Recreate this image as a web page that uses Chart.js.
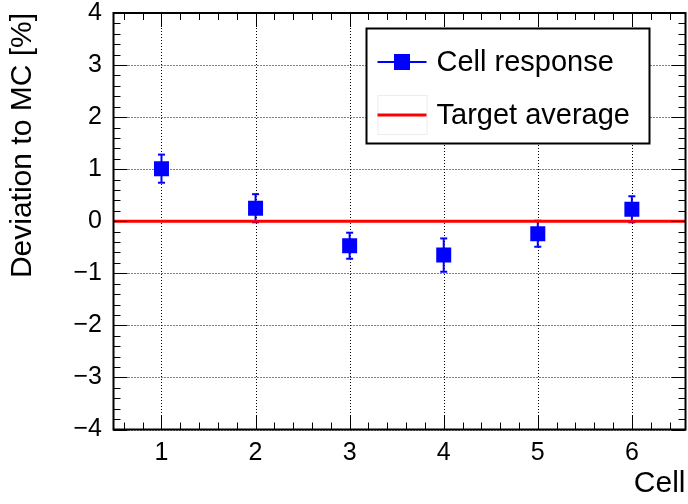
<!DOCTYPE html>
<html>
<head>
<meta charset="utf-8">
<title>Cell response deviation</title>
<script src="https://cdn.jsdelivr.net/npm/chart.js@4/dist/chart.umd.min.js"></script>
<style>
  html, body { margin: 0; padding: 0; background: #fff; }
  canvas { display: block; }
</style>
</head>
<body>
<canvas id="c" width="688" height="504"></canvas>
<script>
// Measured cell response relative to simulation, in percent
const cells = [1, 2, 3, 4, 5, 6];
const deviation = [1.01, 0.25, -0.47, -0.65, -0.24, 0.23];
const deviationError = [0.27, 0.27, 0.25, 0.32, 0.25, 0.25];
const targetAverage = 0;

// Axis ranges and labelled ticks
const xRange = [0.49, 6.57];
const yRange = [-4, 4];
const xTicks = [1, 2, 3, 4, 5, 6];
const yTicks = [-4, -3, -2, -1, 0, 1, 2, 3, 4];

const FONT = '"Liberation Sans", Arial, Helvetica, sans-serif';
const BLUE = '#0000ff';
const RED = '#ff0000';

// Plot frame in canvas pixels
const frame = { left: 113.5, top: 13, right: 685.5, bottom: 429.5 };

function minorValues(min, max, step) {
  const out = [];
  for (let v = Math.ceil(min / step - 1e-9) * step; v <= max + 1e-9; v += step) {
    out.push(Math.round(v * 1000) / 1000);
  }
  return out;
}

function seg(ctx, x1, y1, x2, y2) {
  ctx.beginPath();
  ctx.moveTo(x1, y1);
  ctx.lineTo(x2, y2);
  ctx.stroke();
}

// Labels must not push the plot frame around
function noLabelPadding(s) {
  s.paddingTop = 0;
  s.paddingBottom = 0;
  s.paddingLeft = 0;
  s.paddingRight = 0;
}

// Dotted grid, error bars, inner tick marks, frame and legend box
const rootStyle = {
  id: 'rootStyle',
  beforeDatasetsDraw(chart) {
    const { ctx, chartArea: a, scales: { x, y } } = chart;
    ctx.save();
    ctx.strokeStyle = '#000';
    ctx.lineWidth = 1;
    ctx.setLineDash([1, 2]);
    xTicks.forEach(v => {
      const px = Math.round(x.getPixelForValue(v)) + 0.5;
      seg(ctx, px, a.top, px, a.bottom);
    });
    yTicks.forEach(v => {
      const py = Math.round(y.getPixelForValue(v)) + 0.5;
      seg(ctx, a.left, py, a.right, py);
    });
    ctx.setLineDash([]);

    // vertical error bars with short end caps
    ctx.strokeStyle = BLUE;
    ctx.lineWidth = 2;
    cells.forEach((c, i) => {
      const px = x.getPixelForValue(c);
      const yHi = y.getPixelForValue(deviation[i] + deviationError[i]);
      const yLo = y.getPixelForValue(deviation[i] - deviationError[i]);
      seg(ctx, px, yHi, px, yLo);
      seg(ctx, px - 3.5, yHi, px + 3.5, yHi);
      seg(ctx, px - 3.5, yLo, px + 3.5, yLo);
    });
    ctx.restore();
  },
  afterDatasetsDraw(chart) {
    const { ctx, chartArea: a, scales: { x, y } } = chart;
    ctx.save();
    ctx.strokeStyle = '#000';
    ctx.lineWidth = 1;
    const major = 14, minor = 7;

    // ticks on all four sides, pointing inwards
    minorValues(xRange[0], xRange[1], 0.2).forEach(v => {
      const px = Math.round(x.getPixelForValue(v)) + 0.5;
      const len = xTicks.includes(v) ? major : minor;
      seg(ctx, px, a.bottom, px, a.bottom - len);
      seg(ctx, px, a.top, px, a.top + len);
    });
    minorValues(yRange[0], yRange[1], 0.2).forEach(v => {
      const py = Math.round(y.getPixelForValue(v)) + 0.5;
      const len = yTicks.includes(v) ? major : minor;
      seg(ctx, a.left, py, a.left + len, py);
      seg(ctx, a.right, py, a.right - len, py);
    });

    // frame
    ctx.lineWidth = 2;
    ctx.strokeRect(a.left, a.top, a.right - a.left, a.bottom - a.top);

    // legend
    const L = { x: 366.5, y: 28.5, w: 283, h: 115 };
    ctx.fillStyle = '#fff';
    ctx.fillRect(L.x, L.y, L.w, L.h);
    ctx.strokeStyle = '#000';
    ctx.lineWidth = 2;
    ctx.strokeRect(L.x, L.y, L.w, L.h);

    const row1 = L.y + 33.5, row2 = L.y + 86.5;
    const sx1 = L.x + 11, sx2 = L.x + 60, sxm = (sx1 + sx2) / 2;

    ctx.strokeStyle = BLUE;
    ctx.lineWidth = 2;
    seg(ctx, sx1, row1, sx2, row1);
    ctx.fillStyle = BLUE;
    ctx.fillRect(sxm - 8, row1 - 8, 16, 16);

    ctx.strokeStyle = '#ececec';
    ctx.lineWidth = 1;
    ctx.strokeRect(sx1 + 0.5, row2 - 19.5, sx2 - sx1, 39);
    ctx.strokeStyle = RED;
    ctx.lineWidth = 3;
    seg(ctx, sx1, row2, sx2, row2);

    ctx.fillStyle = '#000';
    ctx.font = '29px ' + FONT;
    ctx.textBaseline = 'middle';
    ctx.textAlign = 'left';
    ctx.fillText('Cell response', L.x + 70, row1 + 1);
    ctx.fillText('Target average', L.x + 70, row2 + 1);
    ctx.restore();
  }
};

new Chart(document.getElementById('c'), {
  type: 'scatter',
  data: {
    datasets: [
      {
        label: 'Target average',
        data: [{ x: xRange[0], y: targetAverage }, { x: xRange[1], y: targetAverage }],
        showLine: true,
        borderColor: RED,
        borderWidth: 3,
        pointRadius: 0,
        order: 0
      },
      {
        label: 'Cell response',
        data: cells.map((c, i) => ({ x: c, y: deviation[i] })),
        showLine: false,
        pointStyle: 'rect',
        pointRadius: 10.6,
        pointBorderWidth: 0,
        backgroundColor: BLUE,
        borderColor: BLUE,
        order: 1
      }
    ]
  },
  options: {
    responsive: false,
    animation: false,
    devicePixelRatio: 1,
    layout: {
      autoPadding: false,
      padding: { left: 0, top: frame.top, right: 688 - frame.right, bottom: 0 }
    },
    plugins: { legend: { display: false }, tooltip: { enabled: false } },
    scales: {
      x: {
        type: 'linear',
        min: xRange[0],
        max: xRange[1],
        afterBuildTicks: s => { s.ticks = xTicks.map(v => ({ value: v })); },
        afterFit: s => { s.height = 504 - frame.bottom; noLabelPadding(s); },
        grid: { display: false, drawTicks: false },
        border: { display: false },
        ticks: {
          padding: 9,
          maxRotation: 0,
          color: '#000',
          font: { family: FONT, size: 25 },
          callback: v => String(v)
        },
        title: {
          display: true,
          text: 'Cell',
          align: 'end',
          color: '#000',
          font: { family: FONT, size: 30, lineHeight: 1.2 },
          padding: { top: 0, bottom: 2 }
        }
      },
      y: {
        type: 'linear',
        min: yRange[0],
        max: yRange[1],
        afterBuildTicks: s => { s.ticks = yTicks.map(v => ({ value: v })); },
        afterFit: s => { s.width = frame.left; noLabelPadding(s); },
        grid: { display: false, drawTicks: false },
        border: { display: false },
        ticks: {
          padding: 11.5,
          color: '#000',
          font: { family: FONT, size: 25 },
          callback: v => (v < 0 ? '\u2212' + Math.abs(v) : String(v))
        },
        title: {
          display: true,
          text: 'Deviation to MC [%]',
          align: 'end',
          color: '#000',
          font: { family: FONT, size: 30, lineHeight: 1.2 },
          padding: { top: 5, bottom: 0 }
        }
      }
    }
  },
  plugins: [rootStyle]
});
</script>
</body>
</html>
